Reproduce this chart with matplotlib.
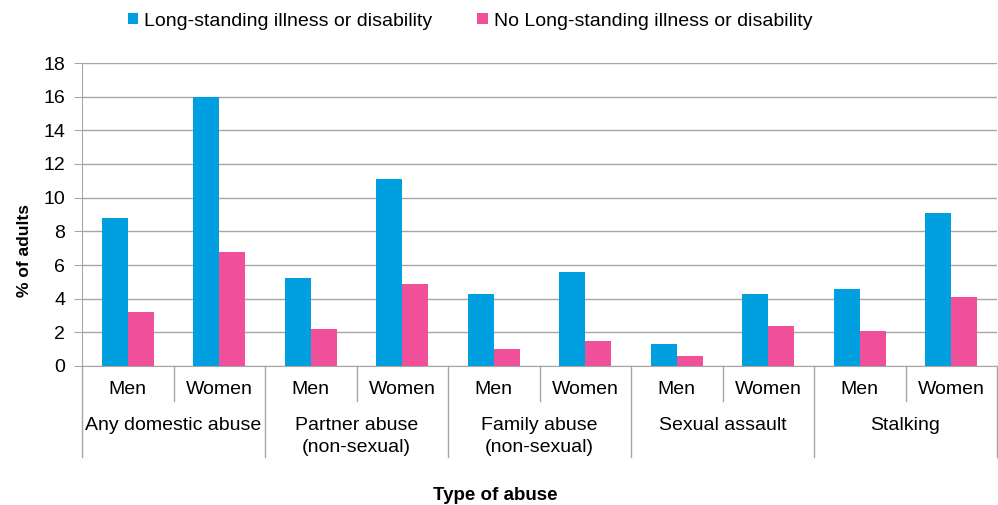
import numpy as np
import matplotlib.pyplot as plt
import matplotlib.transforms as mtransforms

plt.rcParams['font.family'] = ['Liberation Sans', 'DejaVu Sans']

groups = ['Any domestic abuse', 'Partner abuse\n(non-sexual)', 'Family abuse\n(non-sexual)',
          'Sexual assault', 'Stalking']
sexes = ['Men', 'Women']
illness = [8.8, 16.0, 5.2, 11.1, 4.3, 5.6, 1.3, 4.3, 4.6, 9.1]
no_illness = [3.2, 6.8, 2.2, 4.9, 1.0, 1.5, 0.6, 2.4, 2.1, 4.1]
series_names = ['Long-standing illness or disability', 'No Long-standing illness or disability']

blue = '#009FDF'
pink = '#F0509A'
grey = '#A6A6A6'

fig = plt.figure(figsize=(9.98, 5.05), dpi=100)
ax = fig.add_axes([82/998, (505-366)/505, (997-82)/998, (366-63)/505])

n = len(illness)
x = np.arange(n)
width = 0.284
ax.bar(x - width/2, illness, width, color=blue, label=series_names[0])
ax.bar(x + width/2, no_illness, width, color=pink, label=series_names[1])

ax.set_xlim(-0.5, n - 0.5)
ax.set_ylim(0, 18)
ax.set_yticks(np.arange(0, 19, 2))
ax.yaxis.grid(True, color=grey, lw=1)
ax.set_axisbelow(True)
for s in ['top', 'right']:
    ax.spines[s].set_visible(False)
ax.spines['left'].set_color(grey)
ax.spines['bottom'].set_color(grey)
ax.tick_params(axis='y', length=6, color=grey, labelsize=14, pad=6)
ax.set_xticks([])

# two level category axis
trans = mtransforms.blended_transform_factory(ax.transData, ax.transAxes)
short = -35/303
long_ = -91/303
for i in range(n + 1):
    xb = i - 0.5
    y_end = long_ if i % 2 == 0 else short
    ax.plot([xb, xb], [0, y_end], color=grey, lw=1, transform=trans, clip_on=False)
for i in range(n):
    ax.text(i, -24/303, sexes[i % 2], transform=trans, ha='center', va='center', fontsize=14)
for g, name in enumerate(groups):
    ax.text(2*g + 0.5, -51/303, name, transform=trans, ha='center', va='top',
            fontsize=14, linespacing=1.4)

ax.set_ylabel('% of adults', fontsize=12.5, fontweight='bold')
ax.yaxis.set_label_coords(-50/915, 0.38)
fig.text(495/998, 10/505, 'Type of abuse', ha='center', va='center',
         fontsize=13.5, fontweight='bold')

ax.legend(loc='center', bbox_to_anchor=(470/998, (505-21)/505),
          bbox_transform=fig.transFigure, ncol=2, frameon=False, fontsize=14,
          handlelength=0.55, handleheight=0.55, handletextpad=0.3, columnspacing=2.3)

fig.savefig('out.png', dpi=100)
